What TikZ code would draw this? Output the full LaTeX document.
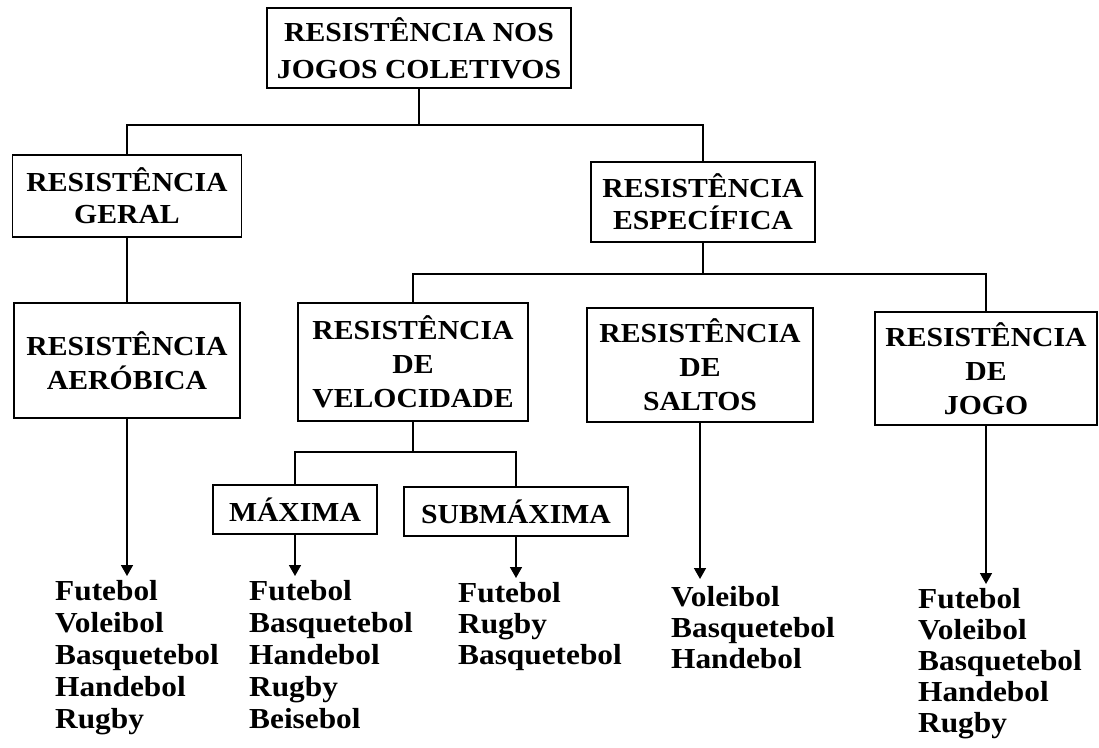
\documentclass[tikz,border=0pt]{standalone}
\usepackage{fontspec}
\newfontfamily\rf{Liberation Serif}[FakeStretch=1.08]
\usetikzlibrary{arrows.meta}
\tikzset{
  box/.style={draw, line width=1.6pt, inner sep=0pt, align=center,
    font=\rf\bfseries\fontsize{27.5}{34}\selectfont},
  conn/.style={line width=1.6pt},
  arr/.style={line width=1.6pt, -{Triangle[width=12pt,length=11pt]}},
  lst/.style={anchor=north west, inner sep=0pt, align=left,
    font=\rf\bfseries\fontsize{29}{32}\selectfont}
}
\begin{document}
\begin{tikzpicture}[x=1pt,y=-1pt]
\useasboundingbox (0,0) rectangle (1099,747);
% boxes
\node[box, minimum width=304pt, minimum height=80pt, font=\rf\bfseries\fontsize{27.5}{37}\selectfont] (root) at (419,48) {RESISTÊNCIA NOS\\JOGOS COLETIVOS};
\node[box, minimum width=229pt, minimum height=82pt, font=\rf\bfseries\fontsize{27.5}{32}\selectfont] (geral) at (127,196) {RESISTÊNCIA\\GERAL};
\node[box, minimum width=224pt, minimum height=80pt, font=\rf\bfseries\fontsize{27.5}{32}\selectfont] (espec) at (703,202) {RESISTÊNCIA\\ESPECÍFICA};
\node[box, minimum width=226pt, minimum height=115pt] (aerob) at (127,360.5) {RESISTÊNCIA\\AERÓBICA};
\node[box, minimum width=230pt, minimum height=118pt] (veloc) at (413,362) {RESISTÊNCIA\\DE\\VELOCIDADE};
\node[box, minimum width=226pt, minimum height=114pt] (saltos) at (700,365) {RESISTÊNCIA\\DE\\SALTOS};
\node[box, minimum width=222pt, minimum height=113pt] (jogo) at (986,368.5) {RESISTÊNCIA\\DE\\JOGO};
\node[box, minimum width=164pt, minimum height=49pt] (maxima) at (295,509.5) {MÁXIMA};
\node[box, minimum width=224pt, minimum height=49pt] (submax) at (516,511.5) {SUBMÁXIMA};
% junctions
\coordinate (j1) at (419,125);
\coordinate (j2) at (703,274);
\coordinate (j3) at (413,452);
\draw[conn] (root.south) -- (j1);
\draw[conn] (geral.north) |- (j1) -| (espec.north);
\draw[conn] (geral.south) -- (aerob.north);
\draw[conn] (espec.south) -- (j2);
\draw[conn] (veloc.north) |- (j2) -| (jogo.north);
\draw[conn] (veloc.south) -- (j3);
\draw[conn] (maxima.north) |- (j3) -| (submax.north);
% lists
\node[lst] (l1) at (55,580) {Futebol\\Voleibol\\Basquetebol\\Handebol\\Rugby};
\node[lst] (l2) at (249,580) {Futebol\\Basquetebol\\Handebol\\Rugby\\Beisebol};
\node[lst, font=\rf\bfseries\fontsize{29}{31}\selectfont] (l3) at (458,582) {Futebol\\Rugby\\Basquetebol};
\node[lst, font=\rf\bfseries\fontsize{29}{31}\selectfont] (l4) at (671,586) {Voleibol\\Basquetebol\\Handebol};
\node[lst, font=\rf\bfseries\fontsize{29}{31}\selectfont] (l5) at (918,588) {Futebol\\Voleibol\\Basquetebol\\Handebol\\Rugby};
% arrows
\coordinate (t1) at (127,576);
\coordinate (t2) at (295,576);
\coordinate (t3) at (516,578);
\coordinate (t4) at (700,579);
\coordinate (t5) at (986,584);
\draw[arr] (aerob.south) -- (t1);
\draw[arr] (maxima.south) -- (t2);
\draw[arr] (submax.south) -- (t3);
\draw[arr] (saltos.south) -- (t4);
\draw[arr] (jogo.south) -- (t5);
\end{tikzpicture}
\end{document}
